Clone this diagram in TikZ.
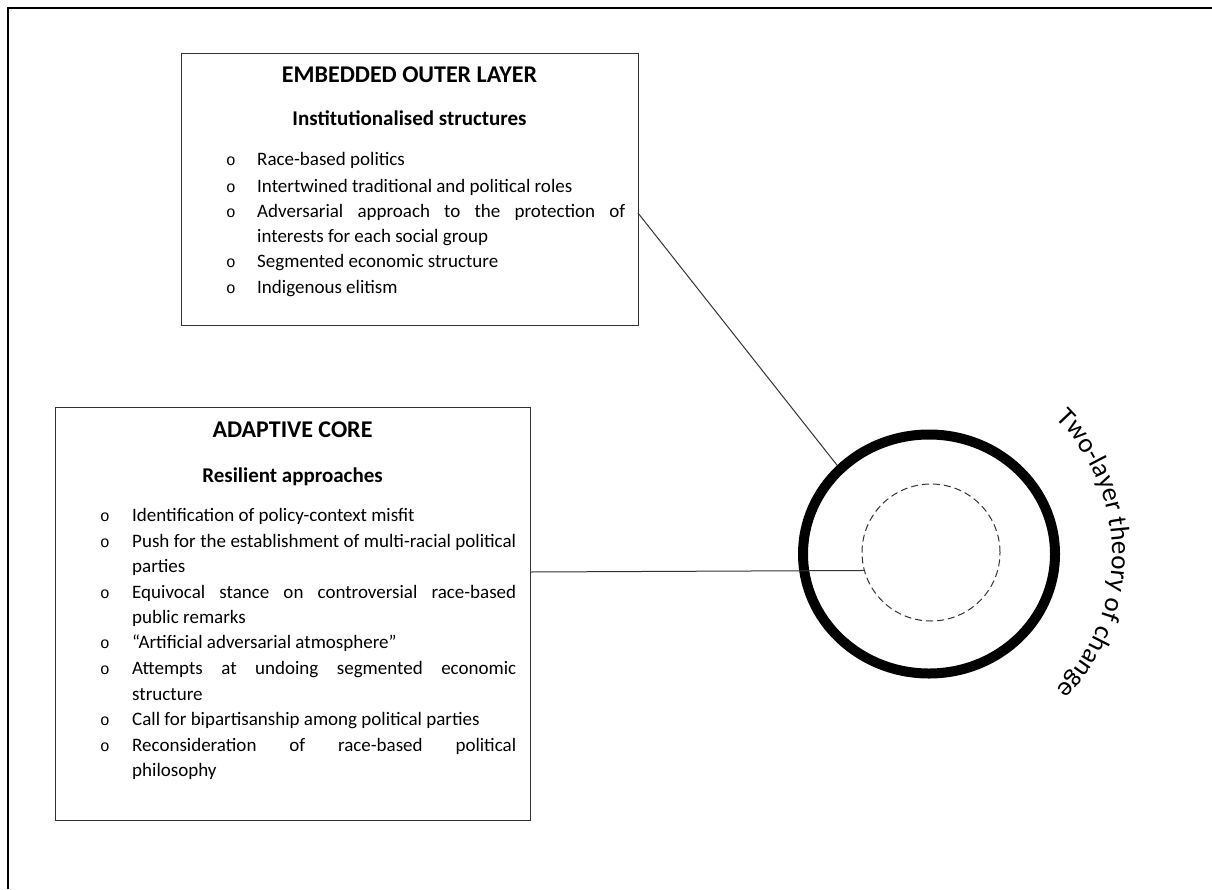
\documentclass[tikz,border=0pt]{standalone}
\usepackage{fontspec}
\setmainfont{Carlito}
\newfontfamily\bulletfont{Liberation Mono}
\usetikzlibrary{shapes.geometric,decorations.text,calc}
\begin{document}
\begin{tikzpicture}[x=1pt,y=-1pt,
  box/.style={draw=black!80,line width=1.4pt,inner sep=0pt,anchor=north west},
  conn/.style={draw=black!80,line width=1pt},
  ttl/.style={anchor=base,inner sep=0pt,font=\fontsize{24}{28}\selectfont\bfseries},
  sub/.style={anchor=base,inner sep=0pt,font=\fontsize{21}{24}\selectfont\bfseries},
  txt/.style={anchor=base west,inner sep=0pt,font=\fontsize{19}{24}\selectfont},
  bul/.style={anchor=base,inner sep=0pt,font=\fontsize{16}{18}\bulletfont},
]
\useasboundingbox (0,0) rectangle (1212,889);
% outer frame
\draw[line width=2.5pt] (8,889) -- (8,8) -- (1212,8);

% top box
\node[box,minimum width=457pt,minimum height=272pt] (topbox) at (181,53) {};
\node[ttl] (toptitle) at (409.5,82) {EMBEDDED OUTER LAYER};
\node[sub] (topsub) at (409.5,125) {Institutionalised structures};
\foreach \y/\n in {165/t1,192/t2,217/t3,267/t4,293/t5}
  \node[bul] (b\n) at (231,\y) {o};
\node[txt] (t1) at (257,165) {Race-based politics};
\node[txt] (t2) at (257,192) {Intertwined traditional and political roles};
\node[txt] (t3) at (257,217) {\makebox[368pt][s]{Adversarial approach to the protection of}};
\node[txt] (t3b) at (257,242) {interests for each social group};
\node[txt] (t4) at (257,267) {Segmented economic structure};
\node[txt] (t5) at (257,293) {Indigenous elitism};

% bottom box
\node[box,minimum width=475pt,minimum height=413pt] (botbox) at (55,407) {};
\node[ttl] (bottitle) at (292.5,437) {ADAPTIVE CORE};
\node[sub] (botsub) at (292.5,482) {Resilient approaches};
\foreach \y/\n in {521/a1,547/a2,598/a3,648/a4,674/a5,725/a6,751/a7}
  \node[bul] (b\n) at (105,\y) {o};
\node[txt] (a1) at (132,521) {Identification of policy-context misfit};
\node[txt] (a2) at (132,547) {\makebox[384pt][s]{Push for the establishment of multi-racial political}};
\node[txt] (a2b) at (132,572) {parties};
\node[txt] (a3) at (132,598) {\makebox[384pt][s]{Equivocal stance on controversial race-based}};
\node[txt] (a3b) at (132,623) {public remarks};
\node[txt] (a4) at (132,648) {“Artificial adversarial atmosphere”};
\node[txt] (a5) at (132,674) {\makebox[384pt][s]{Attempts at undoing segmented economic}};
\node[txt] (a5b) at (132,700) {structure};
\node[txt] (a6) at (132,725) {Call for bipartisanship among political parties};
\node[txt] (a7) at (132,751) {\makebox[384pt][s]{Reconsideration of race-based political}};
\node[txt] (a7b) at (132,776) {philosophy};

% circles
\node[ellipse,draw,line width=10pt,minimum width=252pt,minimum height=239pt,inner sep=0pt] (outer) at (929,554) {};
\node[ellipse,draw=black!80,dash pattern=on 7pt off 4pt,line width=1pt,minimum width=138pt,minimum height=137pt,inner sep=0pt] (inner) at (931,552.5) {};

% connectors
\coordinate (c1) at (638,213);
\draw[conn] (c1) -- (outer.136);
\coordinate (c2) at (530,572);
\draw[conn] (c2) -- (inner.195);

% curved label
\path[decorate,decoration={text along path,text align=center,
  text={|\fontsize{27}{30}\selectfont|Two-layer theory of change}}]
  (929,554) ++(-56:183 and 188) arc[start angle=-56,end angle=56,x radius=183,y radius=188];
\end{tikzpicture}
\end{document}
